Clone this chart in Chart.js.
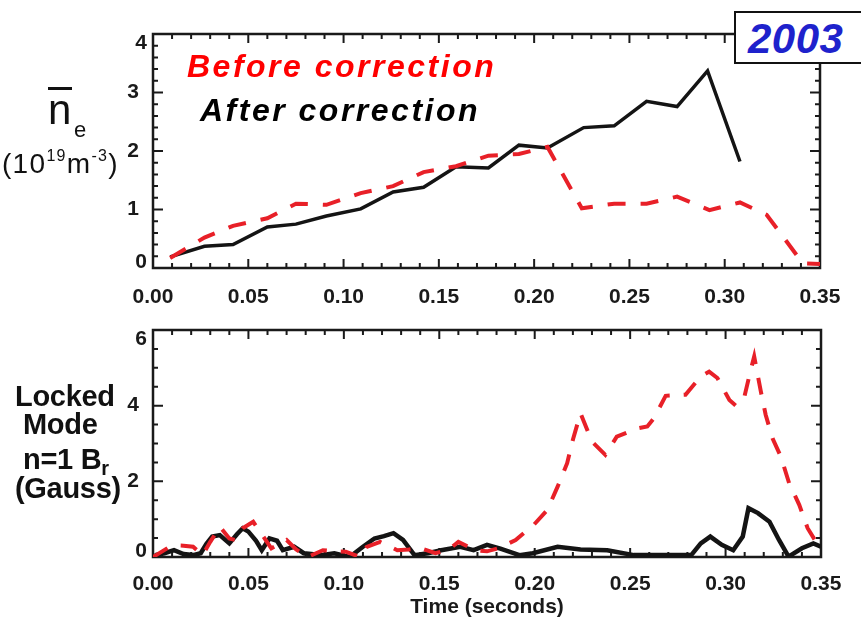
<!DOCTYPE html>
<html lang="en">
<head>
<meta charset="UTF-8" />
<title>Density and locked mode before / after correction, 2003</title>
<script src="https://cdn.jsdelivr.net/npm/chart.js"></script>
<style>
  body { margin: 0; background: #fff; font-family: "Liberation Sans", Arial, sans-serif; }
  #page { position: relative; width: 861px; height: 622px; overflow: hidden; background: #fff; }
  #page canvas { position: absolute; left: 0; }
  .lbl { position: absolute; white-space: nowrap; line-height: 1; color: #111; }
  .big { font-size: 29px; font-weight: bold; letter-spacing: -0.3px; }
  .sup { position: relative; font-size: 16px; top: -12px; }
</style>
</head>
<body>
<div id="page">
  <canvas id="densityChart" width="861" height="310" style="top:0"></canvas>
  <canvas id="lockedChart" width="861" height="312" style="top:310px"></canvas>

  <!-- legend text in the top panel -->
  <div class="lbl" style="left:187px; top:50px; font-size:32px; font-weight:bold; font-style:italic; letter-spacing:2.5px; color:#ff0000;">Before correction</div>
  <div class="lbl" style="left:200px; top:94px; font-size:32px; font-weight:bold; font-style:italic; letter-spacing:2.5px; color:#000;">After correction</div>

  <!-- year box -->
  <div style="position:absolute; left:734px; top:11px; width:140px; height:49px; border:2px solid #111; background:#fff;"></div>
  <div class="lbl" style="left:748px; top:18px; font-size:42px; font-weight:bold; font-style:italic; letter-spacing:0.5px; color:#1e22cc;">2003</div>

  <!-- top y title -->
  <div style="position:absolute; left:48px; top:87px; width:24px; height:2.5px; background:#111;"></div>
  <div class="lbl" style="left:48px; top:89px; font-size:42px;">n</div>
  <div class="lbl" style="left:74px; top:119px; font-size:22px;">e</div>
  <div class="lbl" style="left:2px; top:150px; font-size:28px; letter-spacing:1.3px;">(10<span class="sup">19</span>m<span class="sup">-3</span>)</div>

  <!-- bottom y title -->
  <div class="lbl big" style="left:15px; top:382px;">Locked</div>
  <div class="lbl big" style="left:23px; top:410px;">Mode</div>
  <div class="lbl big" style="left:23px; top:445px;">n=1 B<span style="position:relative; top:6px; font-size:20px; font-weight:bold;">r</span></div>
  <div class="lbl big" style="left:15px; top:474px;">(Gauss)</div>
</div>

<script>
  // top panel: line averaged density, 10^19 m^-3
  const neAfterTime = [0.009, 0.027, 0.042, 0.060, 0.075, 0.091, 0.109, 0.126, 0.142, 0.159,
                       0.176, 0.192, 0.207, 0.226, 0.242, 0.259, 0.275, 0.291, 0.308];
  const neAfter = [0.19, 0.37, 0.40, 0.70, 0.75, 0.89, 1.01, 1.30, 1.38, 1.73,
                   1.71, 2.10, 2.05, 2.40, 2.43, 2.85, 2.76, 3.37, 1.82];
  const neBeforeTime = [0.009, 0.027, 0.042, 0.060, 0.075, 0.091, 0.109, 0.126, 0.142, 0.159,
                        0.176, 0.192, 0.207, 0.225, 0.242, 0.259, 0.275, 0.292, 0.308, 0.322,
                        0.341, 0.350];
  const neBefore = [0.17, 0.52, 0.72, 0.85, 1.10, 1.08, 1.28, 1.40, 1.64, 1.74,
                    1.92, 1.95, 2.07, 1.02, 1.10, 1.10, 1.22, 0.99, 1.12, 0.91,
                    0.08, 0.07];

  // bottom panel: locked mode n=1 Br, gauss
  const brAfterTime = [0.001, 0.006, 0.011, 0.016, 0.021, 0.025, 0.028, 0.031, 0.035, 0.040,
                       0.044, 0.047, 0.050, 0.054, 0.057, 0.061, 0.065, 0.068, 0.074, 0.079,
                       0.088, 0.095, 0.103, 0.110, 0.116, 0.121, 0.126, 0.131, 0.137, 0.144,
                       0.151, 0.161, 0.168, 0.175, 0.182, 0.192, 0.199, 0.212, 0.224, 0.238,
                       0.252, 0.266, 0.282, 0.287, 0.292, 0.298, 0.304, 0.309, 0.312, 0.317,
                       0.323, 0.328, 0.333, 0.340, 0.346, 0.350];
  const brAfter = [0.05, 0.10, 0.18, 0.08, 0.05, 0.10, 0.35, 0.54, 0.58, 0.36,
                   0.60, 0.76, 0.67, 0.43, 0.18, 0.49, 0.43, 0.18, 0.27, 0.10,
                   0.05, 0.10, 0.00, 0.27, 0.49, 0.55, 0.63, 0.45, 0.05, 0.10,
                   0.18, 0.27, 0.18, 0.32, 0.22, 0.05, 0.10, 0.27, 0.20, 0.18,
                   0.05, 0.05, 0.05, 0.36, 0.54, 0.32, 0.18, 0.54, 1.29, 1.16,
                   0.93, 0.45, 0.01, 0.23, 0.36, 0.27];
  const brBeforeTime = [0.000, 0.010, 0.016, 0.021, 0.026, 0.030, 0.035, 0.040, 0.043, 0.047,
                        0.0525, 0.056, 0.062, 0.070, 0.075, 0.081, 0.089, 0.095, 0.101, 0.1085,
                        0.112, 0.119, 0.128, 0.134, 0.140, 0.148, 0.155, 0.160, 0.169, 0.175,
                        0.181, 0.190, 0.1995, 0.2066, 0.212, 0.217, 0.220, 0.224, 0.230, 0.237,
                        0.243, 0.2538, 0.259, 0.2625, 0.2686, 0.279, 0.287, 0.2914, 0.2957, 0.302,
                        0.3054, 0.3097, 0.3132, 0.315, 0.3185, 0.321, 0.3246, 0.329, 0.3333, 0.3386,
                        0.343, 0.349, 0.350];
  const brBefore = [0.00, 0.31, 0.30, 0.27, 0.05, 0.40, 0.80, 0.49, 0.45, 0.76,
                    0.93, 0.67, 0.23, 0.45, 0.20, 0.00, 0.18, 0.15, 0.14, 0.00,
                    0.27, 0.40, 0.18, 0.20, 0.24, 0.10, 0.20, 0.40, 0.18, 0.15,
                    0.23, 0.45, 0.85, 1.24, 1.86, 2.48, 3.10, 3.80, 3.05, 2.70,
                    3.18, 3.40, 3.45, 3.67, 4.26, 4.29, 4.77, 4.90, 4.73, 4.15,
                    4.00, 4.20, 4.95, 5.30, 4.37, 3.76, 3.14, 2.65, 1.95, 1.38,
                    0.76, 0.27, 0.22];

  const RED = "rgb(232, 32, 40)";
  const BLACK = "#141414";
  const FONT_FAMILY = "'Liberation Sans', Arial, sans-serif";
  const TICK_FONT = { family: FONT_FAMILY, size: 21, weight: "bold" };

  function toPoints(ts, vs) {
    return ts.map((t, i) => ({ x: t, y: vs[i] }));
  }

  // box round the plot with inward ticks on all four sides,
  // and the end labels of the y axis tucked inside the box height
  const frameTicks = {
    id: "frameTicks",
    beforeDatasetsDraw(chart, args, opts) {
      const { ctx, chartArea: a } = chart;
      const xs = chart.scales.x, ys = chart.scales.y;
      ctx.save();
      ctx.strokeStyle = "#1a1a1a";
      ctx.lineWidth = 2;
      ctx.beginPath();
      for (let i = 0; i <= 35; i++) {
        const px = xs.getPixelForValue(i / 100);
        const len = i % 5 === 0 ? 9 : 5;
        ctx.moveTo(px, a.bottom); ctx.lineTo(px, a.bottom - len);
        ctx.moveTo(px, a.top); ctx.lineTo(px, a.top + len);
      }
      for (let j = 0; j <= opts.yCount; j++) {
        const py = ys.getPixelForValue(j * opts.yStep);
        const len = j % opts.yMajorEvery === 0 ? 10 : 5;
        ctx.moveTo(a.left, py); ctx.lineTo(a.left + len, py);
        ctx.moveTo(a.right, py); ctx.lineTo(a.right - len, py);
      }
      ctx.stroke();
      ctx.lineWidth = 2.5;
      ctx.strokeRect(a.left, a.top, a.right - a.left, a.bottom - a.top);

      ctx.fillStyle = "#1a1a1a";
      ctx.font = "bold 21px " + FONT_FAMILY;
      ctx.textAlign = "right";
      ctx.textBaseline = "middle";
      ctx.fillText(String(ys.max), ys.right - 6, ys.getPixelForValue(ys.max) + 9);
      ctx.fillText(String(ys.min), ys.right - 6, ys.getPixelForValue(ys.min) - 6);
      ctx.restore();
    }
  };

  function timeAxis(height, pad, withTitle) {
    return {
      type: "linear",
      min: 0,
      max: 0.35,
      grid: { display: false },
      border: { display: false },
      ticks: {
        stepSize: 0.05,
        padding: pad,
        color: "#1a1a1a",
        font: TICK_FONT,
        maxRotation: 0,
        callback: v => v.toFixed(2)
      },
      title: {
        display: withTitle,
        text: "Time (seconds)",
        color: "#1a1a1a",
        font: TICK_FONT,
        padding: { top: 0, bottom: 2 }
      },
      afterFit: s => { s.height = height; }
    };
  }

  function valueAxis(max, step) {
    return {
      type: "linear",
      min: 0,
      max: max,
      grid: { display: false },
      border: { display: false },
      ticks: {
        stepSize: step,
        padding: 6,
        color: "#1a1a1a",
        font: TICK_FONT,
        // first and last labels are drawn by frameTicks
        callback: (v, i, all) => (i === 0 || i === all.length - 1) ? "" : v
      },
      afterFit: s => { s.width = 153; }
    };
  }

  // chart 1: density
  new Chart(document.getElementById("densityChart"), {
    type: "line",
    data: {
      datasets: [
        {
          label: "Before correction",
          data: toPoints(neBeforeTime, neBefore),
          borderColor: RED,
          borderWidth: 4,
          borderDash: [18, 15],
          pointRadius: 0,
          tension: 0
        },
        {
          label: "After correction",
          data: toPoints(neAfterTime, neAfter),
          borderColor: BLACK,
          borderWidth: 3.5,
          pointRadius: 0,
          tension: 0
        }
      ]
    },
    options: {
      responsive: false,
      animation: false,
      devicePixelRatio: 1,
      layout: { padding: { top: 34, right: 41, bottom: 0, left: 0 } },
      plugins: {
        legend: { display: false },
        tooltip: { enabled: false },
        frameTicks: { yStep: 0.2, yCount: 20, yMajorEvery: 5 }
      },
      scales: { x: timeAxis(42, 9, false), y: valueAxis(4, 1) }
    },
    plugins: [frameTicks]
  });

  // chart 2: locked mode amplitude
  new Chart(document.getElementById("lockedChart"), {
    type: "line",
    data: {
      datasets: [
        {
          label: "Before correction",
          data: toPoints(brBeforeTime, brBefore),
          borderColor: RED,
          borderWidth: 4,
          borderDash: [17, 14],
          pointRadius: 0,
          tension: 0
        },
        {
          label: "After correction",
          data: toPoints(brAfterTime, brAfter),
          borderColor: BLACK,
          borderWidth: 4.5,
          pointRadius: 0,
          tension: 0
        }
      ]
    },
    options: {
      responsive: false,
      animation: false,
      devicePixelRatio: 1,
      layout: { padding: { top: 20, right: 40, bottom: 0, left: 0 } },
      plugins: {
        legend: { display: false },
        tooltip: { enabled: false },
        frameTicks: { yStep: 0.5, yCount: 12, yMajorEvery: 4 }
      },
      scales: { x: timeAxis(65, 7, true), y: valueAxis(6, 2) }
    },
    plugins: [frameTicks]
  });
</script>
</body>
</html>
